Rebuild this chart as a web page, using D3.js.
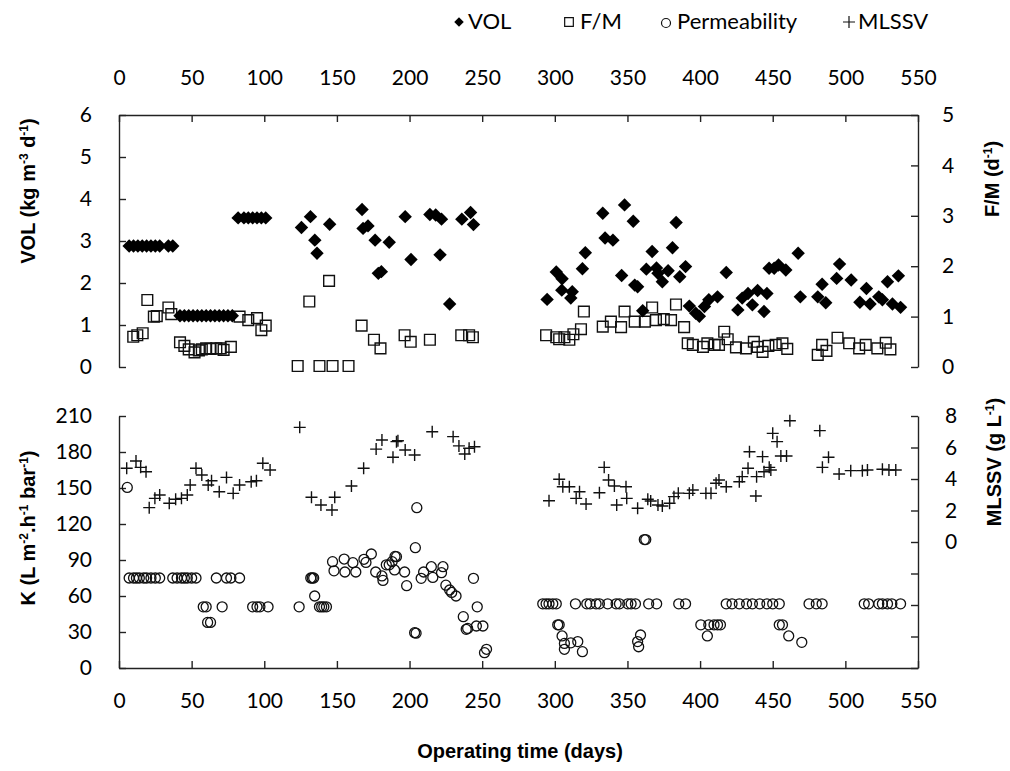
<!DOCTYPE html>
<html>
<head>
<meta charset="utf-8">
<script src="https://cdn.jsdelivr.net/npm/d3@7"></script>
<style>
body { margin: 0; background: #fff; }
.tick text { font-family: Lato, "Open Sans", sans-serif; font-size: 21px; fill: #000; }
.axis path, .axis line { stroke: #222; stroke-width: 1.4; }
.title { font-family: "Liberation Sans", Arial, sans-serif; font-weight: bold; font-size: 20px; fill: #000; }
.legend { font-family: Lato, "Open Sans", sans-serif; font-size: 22px; fill: #000; }
</style>
</head>
<body>
<div id="chart"></div>
<script>
// ---- data: [day, value] ----
var xTicks = [0, 50, 100, 150, 200, 250, 300, 350, 400, 450, 500, 550];
var volTicks = [0, 1, 2, 3, 4, 5, 6];
var fmTicks = [0, 1, 2, 3, 4, 5];
var kTicks = [0, 30, 60, 90, 120, 150, 180, 210];
var mlssTicks = [-8, -6, -4, -2, 0, 2, 4, 6, 8];

var vol = [
  [7,2.88],[10,2.88],[13,2.88],[16,2.88],[19,2.88],[22,2.88],[25,2.88],[28,2.88],[34,2.88],[37,2.88],
  [42,1.22],[45,1.22],[48,1.22],[51,1.22],[54,1.22],[57,1.22],[60,1.22],[63,1.22],[66,1.22],[69,1.22],[72,1.22],[75,1.22],[78,1.22],
  [82,3.55],[86,3.55],[89,3.55],[92,3.55],[95,3.55],[98,3.55],[101,3.55],
  [125.6,3.32],[131.8,3.58],[134.8,3.02],[136.3,2.71],[145,3.40],[167.3,3.75],[168,3.30],[171.4,3.36],[176.3,3.02],
  [178.5,2.23],[180.6,2.27],[186,2.97],[197,3.58],[201,2.56],[214,3.63],[218,3.62],[222,3.52],[221,2.67],[227.6,1.50],
  [236,3.52],[242,3.68],[244,3.39],
  [294.7,1.61],[301,2.26],[305,2.10],[304.8,1.83],[312,1.79],[311,1.64],[319,2.34],[321,2.72],[333,3.66],[334.6,3.07],
  [340,3.02],[348,3.86],[354,3.47],[346,2.18],[355,1.95],[357,1.91],[360.5,1.34],[363,2.33],[367,2.75],[370,2.36],
  [371,2.23],[374,2.03],[378,2.29],[381,2.84],[383.5,3.44],[386,2.15],[390,2.39],[392.6,1.45],[397,1.28],[399.5,1.21],
  [403,1.44],[406,1.60],[412,1.67],[418,2.25],[426,1.36],[429,1.64],[433,1.75],[436,1.48],[439.6,1.82],[444,1.32],
  [446,1.75],[447.5,2.35],[451,2.35],[454,2.43],[459,2.31],[467.5,2.71],[469,1.67],[481,1.67],[484,1.97],[486.5,1.53],
  [494,2.11],[496,2.45],[504,2.07],[510,1.54],[514.5,1.87],[517,1.50],[523,1.67],[525.5,1.60],[529,2.03],[532.4,1.50],
  [536.5,2.17],[538,1.42]
];

var fm = [
  [9.8,0.60],[12.6,0.63],[16.3,0.67],[19.5,1.33],[24,1.00],[26,1.01],[34,1.18],[36,1.05],[42,0.49],[45,0.42],
  [48,0.35],[52,0.29],[55,0.33],[57,0.35],[60,0.37],[63,0.36],[67,0.37],[70,0.37],[72,0.34],[77,0.40],
  [83,1.00],[89,0.93],[95,0.97],[98,0.73],[101,0.82],[123,0.02],[131,1.30],[138,0.02],[147,0.02],[158,0.02],
  [144.6,1.71],[167,0.82],[175.5,0.54],[180,0.37],[196.6,0.63],[200.8,0.50],[214,0.54],[235.6,0.63],[241,0.63],[243.6,0.59],
  [294,0.63],[301,0.59],[303,0.55],[306.6,0.59],[310,0.54],[312.8,0.65],[318,0.75],[320,1.10],[333,0.80],[338.6,0.90],
  [345.6,0.79],[348,1.10],[355,0.90],[362,0.90],[367,1.18],[369.6,0.93],[375,0.95],[380,0.93],[383.4,1.24],[389,0.79],
  [391.5,0.47],[395,0.44],[402,0.40],[405,0.47],[410,0.44],[413,0.44],[416.6,0.70],[419,0.55],[424.7,0.39],[431.6,0.37],
  [437,0.50],[439.6,0.40],[443,0.30],[447,0.42],[452,0.44],[456.7,0.47],[460,0.36],[481,0.24],[484,0.44],[487,0.32],
  [494.6,0.58],[502.6,0.47],[509.5,0.37],[514,0.44],[522,0.37],[527.8,0.48],[531,0.35]
];

var perm = [
  [5.7,150.5],
  [7,75],[10,75],[12,75],[14,75],[17,75],[19,75],[22,75],[25,75],[28,75],[37,75],[40,75],[43,75],[45,75],[47,75],
  [50,75],[53,75],[67,75],[74,75],[77,75],[83,75],
  [58,51],[60,51],[71,51],[92,51],[95,51],[97,51],[102.6,51],[124,51],[138,51],[139.5,51],[141,51],[142.8,51],
  [61,38],[63,38],[132,75],[133,75],[134,75],[134.7,60],
  [147,88.6],[148,81],[155,90.8],[155.5,80],[161,87.8],[163,80],[168.6,90.6],[170,88],[173.7,95],[176.7,80],
  [181,76.7],[181.7,73],[184,86],[186,86],[188,88.6],[189.7,81.7],[190,93],[191,92.8],[196.6,80],[198,68.6],
  [204,100.3],[205,133.6],[203.5,29.4],[204.5,29],[208,74.7],[209.7,80],[215,84.4],[216,75.5],[222,79.4],[223,84.4],
  [225,69],[227.6,65],[229,63],[232,60],[244,74.7],[246.6,51],[237,42.8],[239,32.2],[240,33],[246,35],[250.5,35],
  [251.6,12.8],[253,15.6],
  [291.7,53.5],[294,53.5],[296,53.5],[298.6,53.5],[301,53.5],[314.2,53.5],[322,53.5],[324.3,53.5],[328.4,53.5],[330.7,53.5],
  [336.4,53.5],[342.2,53.5],[344.5,53.5],[350.2,53.5],[352.5,53.5],[355.5,53.5],[364.6,53.5],[370.1,53.5],[385.3,53.5],
  [390,53.5],[418,53.5],[422,53.5],[427,53.5],[432,53.5],[436,53.5],[441,53.5],[446,53.5],[450,53.5],[454.5,53.5],
  [475,53.5],[480,53.5],[484,53.5],[513,53.5],[516,53.5],[523,53.5],[525.5,53.5],[529,53.5],[532,53.5],[538,53.5],
  [302,36],[303,36],[400.5,36],[406,36],[409.6,36],[412,36],[414,36],[454.5,36],[456.7,36],
  [305,26.7],[306.6,20.5],[306.6,15.6],[311,21],[315.8,22],[319,13.6],[361.6,107],[362.6,107],[359,27.5],[357,22],
  [357.7,17.7],[405,26.7],[461,26.7],[470,21.4]
];

var mlssv = [
  [5.3,4.68],[11.7,5.14],[14.9,4.74],[18.6,4.46],[20.8,2.18],[24.7,2.77],[28,2.98],[34.6,2.46],[39,2.71],[43,2.77],
  [47,2.98],[49,3.62],[53,4.68],[57,4.25],[61.4,3.62],[63.7,3.89],[69,3.19],[74,4.10],[78.6,3.09],[83,3.62],
  [91,3.83],[94.6,3.89],[99,5.00],[104,4.57],[124.4,7.28],[132.5,2.84],[139,2.35],[146.6,2.03],[148.5,2.84],[160,3.56],
  [168.4,4.68],[177,5.90],[181,6.48],[188.6,5.38],[191,6.37],[192,6.43],[197,5.84],[203.5,5.52],[215.6,7.00],[230,6.69],
  [234,6.10],[238,5.59],[241,5.95],[244.7,6.05],
  [296,2.62],[303,3.98],[305.5,3.51],[310,3.51],[314.7,2.77],[317,3.19],[321.5,2.41],[330.7,3.13],[334,4.74],[337,3.94],
  [341,3.56],[342.6,2.35],[349,3.51],[349.5,2.77],[357,2.14],[364,2.71],[366,2.60],[371,2.35],[374,2.29],[379,2.46],
  [382,2.88],[385,3.10],[392.6,3.09],[395,3.30],[404,3.09],[407.5,3.09],[411,3.73],[413,3.94],[418,3.51],[427,3.83],
  [429,4.15],[433,4.68],[434,5.73],[438.4,2.92],[438.9,4.15],[443,5.42],[444,4.46],[447.6,4.74],[448.7,4.57],[450,6.90],
  [453,6.37],[455.6,5.46],[459.5,5.46],[461.8,7.70],[482.4,7.07],[484.2,4.74],[488.4,5.38],[495.7,4.32],[503.7,4.53],
  [511.7,4.53],[515.2,4.57],[525.5,4.62],[530,4.57],[534.7,4.57]
];

// ---- layout ----
var width = 1010, height = 771;
var svg = d3.select('#chart').append('svg')
    .attr('width', width)
    .attr('height', height);

var x = d3.scaleLinear().domain([0, 550]).range([119, 918]);
var yVol = d3.scaleLinear().domain([0, 6]).range([367, 115]);
var yFm = d3.scaleLinear().domain([0, 5]).range([367, 115]);
var yK = d3.scaleLinear().domain([0, 210]).range([668, 416]);
var yM = d3.scaleLinear().domain([-8, 8]).range([668, 416]);

var fmt = d3.format('d');

// axes, ticks pointing inward
svg.append('g').attr('class', 'axis').attr('transform', 'translate(0,115)')
  .call(d3.axisTop(x).tickValues(xTicks).tickFormat(fmt).tickSizeInner(-7).tickSizeOuter(0).tickPadding(30));
svg.append('g').attr('class', 'axis').attr('transform', 'translate(119,0)')
  .call(d3.axisLeft(yVol).tickValues(volTicks).tickFormat(fmt).tickSizeInner(-7).tickSizeOuter(0).tickPadding(27));
svg.append('g').attr('class', 'axis').attr('transform', 'translate(918,0)')
  .call(d3.axisRight(yFm).tickValues(fmTicks).tickFormat(fmt).tickSizeInner(-7).tickSizeOuter(0).tickPadding(24));

svg.append('g').attr('class', 'axis').attr('transform', 'translate(0,668)')
  .call(d3.axisBottom(x).tickValues(xTicks).tickFormat(fmt).tickSizeInner(-7).tickSizeOuter(0).tickPadding(25));
svg.append('g').attr('class', 'axis').attr('transform', 'translate(119,0)')
  .call(d3.axisLeft(yK).tickValues(kTicks).tickFormat(fmt).tickSizeInner(-7).tickSizeOuter(0).tickPadding(27));
svg.append('g').attr('class', 'axis').attr('transform', 'translate(918,0)')
  .call(d3.axisRight(yM).tickValues(mlssTicks).tickSizeInner(-7).tickSizeOuter(0).tickPadding(27)
    .tickFormat(function(d){ return d >= 0 ? fmt(d) : ''; }));

// markers
var ink = '#111';
var sq = d3.symbol().type(d3.symbolSquare);

svg.append('g').selectAll('path').data(fm).enter().append('path')
  .attr('transform', function(d){ return 'translate(' + x(d[0]) + ',' + yFm(d[1]) + ')'; })
  .attr('d', sq.size(115)())
  .attr('fill', 'none').attr('stroke', ink).attr('stroke-width', 1.4);

svg.append('g').selectAll('path').data(vol).enter().append('path')
  .attr('transform', function(d){ return 'translate(' + x(d[0]) + ',' + yVol(d[1]) + ') rotate(45)'; })
  .attr('d', sq.size(90)())
  .attr('fill', '#000');

svg.append('g').selectAll('circle').data(perm).enter().append('circle')
  .attr('cx', function(d){ return x(d[0]); })
  .attr('cy', function(d){ return yK(d[1]); })
  .attr('r', 5)
  .attr('fill', 'none').attr('stroke', ink).attr('stroke-width', 1.3);

svg.append('g').selectAll('path').data(mlssv).enter().append('path')
  .attr('transform', function(d){ return 'translate(' + x(d[0]) + ',' + yM(d[1]) + ')'; })
  .attr('d', 'M-6,0H6M0,-6V6')
  .attr('stroke', ink).attr('stroke-width', 1.4);

// titles with superscripts
function title(parts, tx, ty, rot) {
  var t = svg.append('text').attr('class', 'title')
    .attr('text-anchor', 'middle')
    .attr('transform', 'translate(' + tx + ',' + ty + ')' + (rot ? ' rotate(' + rot + ')' : ''));
  parts.forEach(function(p){
    var s = t.append('tspan').text(p[0]);
    if (p[1]) s.attr('baseline-shift', 'super').attr('font-size', '12px');
  });
}
title([['VOL (kg m'], ['-3', 1], [' d'], ['-1', 1], [')']], 35, 191, -90);
title([['K (L m'], ['-2', 1], ['.h'], ['-1', 1], [' bar'], ['-1', 1], [')']], 35, 528, -90);
title([['F/M (d'], ['-1', 1], [')']], 999, 179, -90);
title([['MLSSV (g L'], ['-1', 1], [')']], 1001, 462, -90);
title([['Operating time (days)']], 520, 758, 0);

// legend
var lg = svg.append('g');
lg.append('path').attr('transform', 'translate(459,22) rotate(45)').attr('d', sq.size(45)()).attr('fill', '#000');
lg.append('text').attr('class', 'legend').attr('x', 468).attr('y', 29).text('VOL');
lg.append('path').attr('transform', 'translate(569,22)').attr('d', sq.size(75)())
  .attr('fill', 'none').attr('stroke', ink).attr('stroke-width', 1.2);
lg.append('text').attr('class', 'legend').attr('x', 580).attr('y', 29).text('F/M');
lg.append('circle').attr('cx', 666).attr('cy', 23).attr('r', 4.5)
  .attr('fill', 'none').attr('stroke', ink).attr('stroke-width', 1.2);
lg.append('text').attr('class', 'legend').attr('x', 677).attr('y', 29).text('Permeability');
lg.append('path').attr('transform', 'translate(849,22)').attr('d', 'M-6,0H6M0,-6V6')
  .attr('stroke', ink).attr('stroke-width', 1.2);
lg.append('text').attr('class', 'legend').attr('x', 858).attr('y', 29).text('MLSSV');
</script>
</body>
</html>
